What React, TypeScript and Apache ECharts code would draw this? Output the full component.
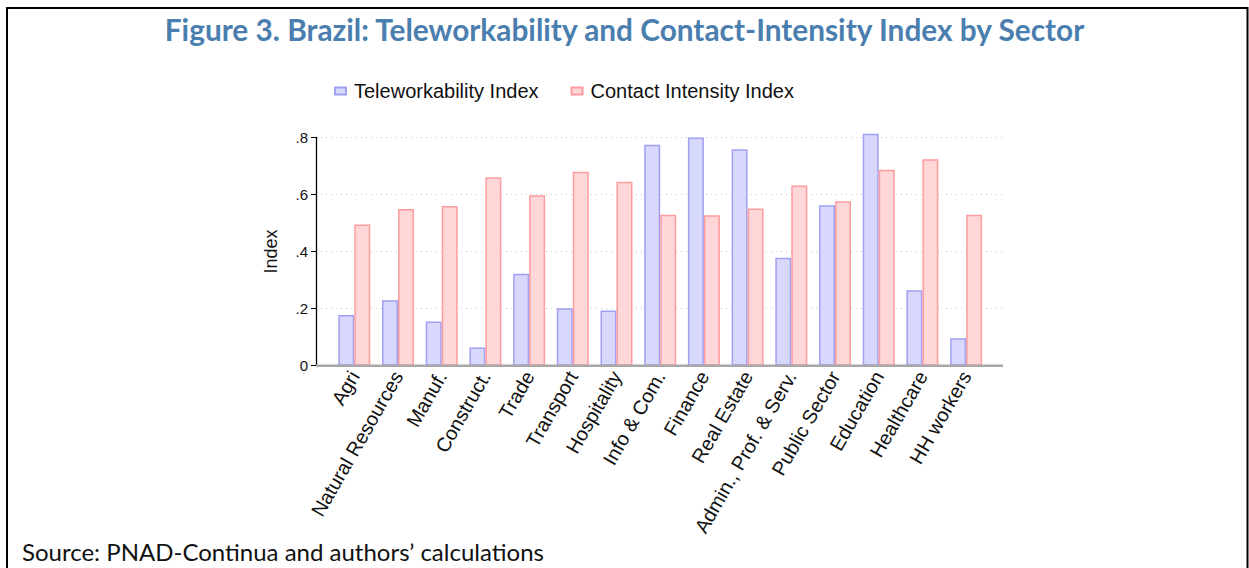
import React, { useEffect, useRef } from "react";
import * as echarts from "echarts";

const categories = [
  "Agri", "Natural Resources", "Manuf.", "Construct.", "Trade", "Transport",
  "Hospitality", "Info & Com.", "Finance", "Real Estate", "Admin., Prof. & Serv.",
  "Public Sector", "Education", "Healthcare", "HH workers",
];
const teleworkability = [0.178, 0.229, 0.155, 0.064, 0.322, 0.201, 0.193, 0.774, 0.799, 0.758, 0.378, 0.562, 0.812, 0.264, 0.096];
const contactIntensity = [0.495, 0.549, 0.559, 0.660, 0.597, 0.679, 0.644, 0.529, 0.527, 0.551, 0.631, 0.576, 0.686, 0.723, 0.529];
const yTicks = [0, 0.2, 0.4, 0.6, 0.8];

const TITLE = "Figure 3. Brazil: Teleworkability and Contact-Intensity Index by Sector";
const SOURCE = "Source: PNAD-Continua and authors\u2019 calculations";

export default function App() {
  const ref = useRef<HTMLDivElement>(null);
  useEffect(() => {
    if (!ref.current) return;
    const chart = echarts.init(ref.current, null, { renderer: "svg" });
    const fmt = (v: number) => (v === 0 ? "0" : String(Number(v.toFixed(1))).replace(/^0/, ""));
    const yMin = yTicks[0];
    const yMax = yTicks[yTicks.length - 1];
    const top = 137.3;
    const height = 228.4;
    chart.setOption({
      animation: false,
      backgroundColor: "#ffffff",
      title: {
        text: TITLE,
        left: "center",
        top: 9,
        textStyle: { fontFamily: "Lato", fontWeight: "bold", fontSize: 29.8, color: "#4a7eae" },
      },
      legend: {
        top: 76,
        left: 329,
        itemWidth: 11,
        itemHeight: 7,
        itemGap: 32,
        icon: "rect",
        textStyle: { fontFamily: "Liberation Sans", fontSize: 20, color: "#111", padding: [0, 0, 0, 3] },
        data: ["Teleworkability Index", "Contact Intensity Index"],
      },
      grid: [
        { left: 316, top, width: 687, height },
        { left: 332.45, top, width: 655.5, height },
      ],
      xAxis: [
        {
          gridIndex: 0,
          type: "value",
          min: 0,
          max: 1,
          axisLine: { show: false },
          axisTick: { show: false },
          axisLabel: { show: false },
          splitLine: { show: false },
        },
        {
          gridIndex: 1,
          type: "category",
          data: categories,
          boundaryGap: true,
          axisLine: { show: false },
          axisTick: { show: false },
          axisLabel: {
            rotate: 60,
            interval: 0,
            margin: 7,
            fontFamily: "Liberation Sans",
            fontSize: 19.8,
            color: "#111",
          },
        },
      ],
      yAxis: [
        {
          gridIndex: 0,
          type: "value",
          min: yMin,
          max: yMax,
          interval: 0.2,
          name: "Index",
          nameLocation: "middle",
          nameGap: 36,
          nameRotate: 90,
          nameTextStyle: { fontFamily: "Liberation Sans", fontSize: 18, color: "#111" },
          axisLine: { show: true, lineStyle: { color: "#000", width: 1.3 } },
          axisTick: { show: true, length: 5, lineStyle: { color: "#000" } },
          axisLabel: { formatter: fmt, fontFamily: "Liberation Sans", fontSize: 15, color: "#111", margin: 8 },
          splitLine: { show: true, lineStyle: { color: "#c8c8c8", type: [1, 4], width: 1 } },
        },
        {
          gridIndex: 1,
          type: "value",
          min: yMin,
          max: yMax,
          interval: 0.2,
          axisLine: { show: false },
          axisTick: { show: false },
          axisLabel: { show: false },
          splitLine: { show: false },
        },
      ],
      series: [
        {
          name: "Teleworkability Index",
          type: "bar",
          xAxisIndex: 1,
          yAxisIndex: 1,
          data: teleworkability,
          barWidth: 16,
          barGap: "0%",
          clip: false,
          itemStyle: { color: "#d8d8fd", borderColor: "#a0a0f4", borderWidth: 1.5 },
        },
        {
          name: "Contact Intensity Index",
          type: "bar",
          xAxisIndex: 1,
          yAxisIndex: 1,
          data: contactIntensity,
          barWidth: 16,
          barGap: "0%",
          clip: false,
          itemStyle: { color: "#ffd7d9", borderColor: "#ff9c9e", borderWidth: 1.5 },
        },
      ],
      graphic: [
        {
          type: "line",
          shape: { x1: 316, y1: top + height, x2: 1003, y2: top + height },
          style: { stroke: "#a8a8a8", lineWidth: 2.5 },
          z: 10,
        },
        { type: "line", shape: { x1: 7, y1: 8, x2: 7, y2: 568 }, style: { stroke: "#000", lineWidth: 2 } },
        { type: "line", shape: { x1: 6, y1: 8, x2: 1248, y2: 8 }, style: { stroke: "#000", lineWidth: 2 } },
        { type: "line", shape: { x1: 1247.5, y1: 7, x2: 1247.5, y2: 568 }, style: { stroke: "#000", lineWidth: 2 } },
        {
          type: "text",
          left: 22,
          top: 539,
          style: { text: SOURCE, fontFamily: "Lato", fontSize: 24, fill: "#111" },
        },
      ],
    });
    return () => chart.dispose();
  }, []);
  return <div ref={ref} style={{ position: "fixed", left: 0, top: 0, width: 1249, height: 568 }} />;
}
